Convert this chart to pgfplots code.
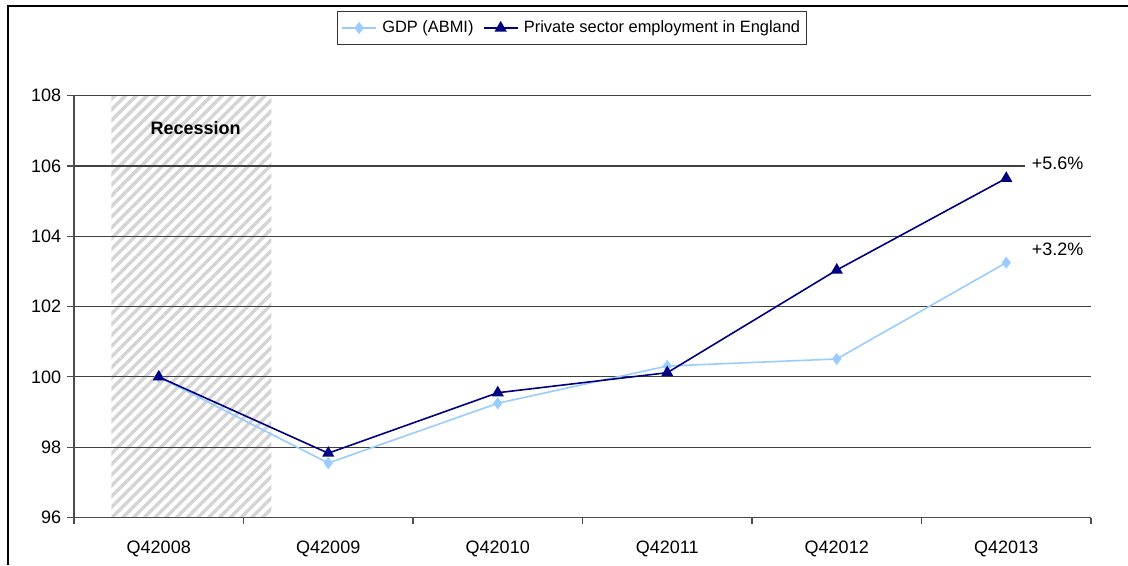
\documentclass[border=0pt]{standalone}
\usepackage{pgfplots}
\pgfplotsset{compat=1.18}
\usepackage{fontspec}
\setmainfont{Liberation Sans}
\usetikzlibrary{patterns.meta}
\definecolor{gdpblue}{RGB}{153,204,255}
\definecolor{empnavy}{RGB}{0,0,128}
\definecolor{hatchgray}{RGB}{212,212,212}
\pgfplotsset{
  base/.style={
    at={(55.5pt,35.6pt)}, anchor=south west,
    scale only axis, width=762.75pt, height=316.4pt,
    xmin=-0.5, xmax=5.5, ymin=96, ymax=108,
    clip=false,
  }
}
\begin{document}
\fontsize{13.5}{16}\selectfont
\begin{tikzpicture}
\path[use as bounding box] (0pt,0pt) rectangle (846pt,423.75pt);
\draw[black, line width=0.8pt] (6pt,0pt) -- (6pt,419.25pt) -- (846pt,419.25pt);
% background axis: recession band
\begin{axis}[base, axis lines=none, xtick=\empty, ytick=\empty]
\addplot[draw=none, pattern={Lines[angle=45,distance=5.7pt,line width=2.6pt]}, pattern color=hatchgray, forget plot]
  coordinates {(-0.28,96) (-0.28,108) (0.665,108) (0.665,96) (-0.28,96)};
\end{axis}
% main axis
\begin{axis}[
  base,
  axis x line*=bottom, axis y line*=left,
  axis line style={black!70, line width=0.8pt},
  xtick={0,1,2,3,4,5},
  xticklabels={Q42008,Q42009,Q42010,Q42011,Q42012,Q42013},
  minor xtick={-0.5,0.5,1.5,2.5,3.5,4.5,5.5},
  major x tick style={draw=none},
  minor x tick style={black!70, line width=0.8pt},
  ytick={96,98,...,108},
  major y tick style={black!70, line width=0.8pt},
  tick align=outside,
  major tick length=5pt, minor tick length=5pt,
  ymajorgrids,
  major grid style={black!75, line width=0.8pt},
  tick label style={font=\fontsize{13.5}{16}\selectfont},
  xticklabel style={yshift=-8pt},
  /pgf/number format/assume math mode=true,
  legend style={at={(0.4897,1.2008)}, anchor=north, draw=black!80, line width=0.6pt,
    font=\fontsize{12.3}{14.5}\selectfont, inner xsep=3pt, inner ysep=5pt, column sep=2pt,
    /tikz/every even column/.append style={column sep=5pt}},
  legend columns=2,
  legend image code/.code={\draw[mark repeat=2,mark phase=2] plot coordinates {(0cm,0cm)(0.45cm,0cm)(0.9cm,0cm)};},
]
\addplot[gdpblue, line width=1.2pt, mark=diamond*, mark size=3.6pt, mark options={fill=gdpblue, draw=gdpblue}]
  coordinates {(0,100) (1,97.55) (2,99.25) (3,100.31) (4,100.51) (5,103.25)};
\addlegendentry{GDP (ABMI)}
\addplot[empnavy, line width=1.2pt, mark=triangle*, mark size=4.1pt, mark options={fill=empnavy, draw=empnavy}]
  coordinates {(0,100) (1,97.83) (2,99.55) (3,100.12) (4,103.04) (5,105.65)};
\addlegendentry{Private sector employment in England}
\node[font=\fontsize{13.5}{16}\selectfont\bfseries] at (axis cs:0.217,107.08) {Recession};
\node[anchor=west, fill=white, inner xsep=5pt, inner ysep=1pt, text width=44pt, align=left] at (axis cs:5.11,106.08) {+5.6\%};
\node[anchor=west, inner xsep=5pt] at (axis cs:5.11,103.63) {+3.2\%};
\end{axis}
\end{tikzpicture}
\end{document}
